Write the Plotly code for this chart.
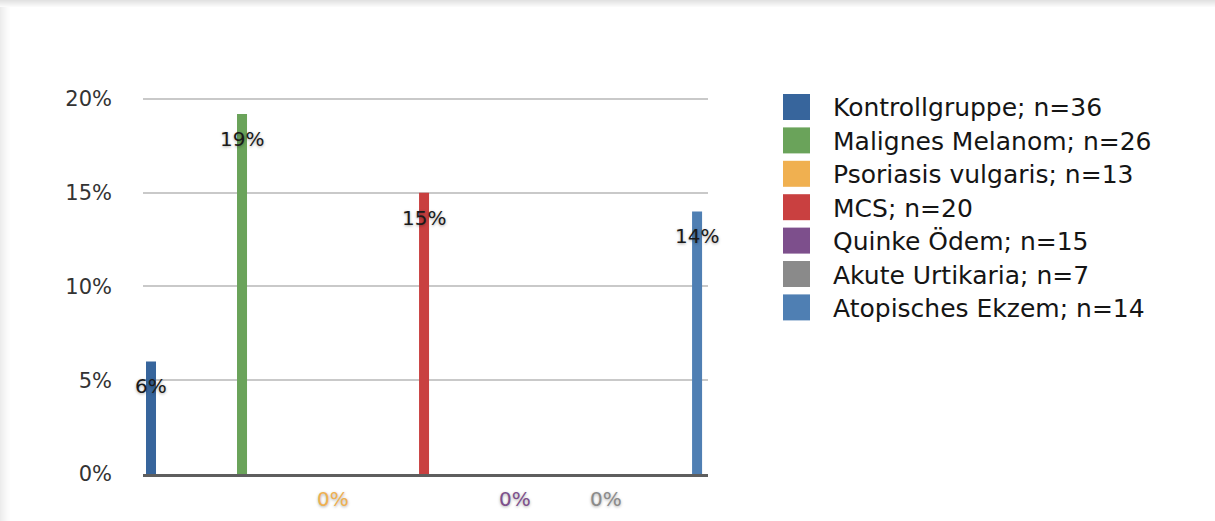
import plotly.graph_objects as go

# ---- data ----
groups = ["Kontrollgruppe; n=36", "Malignes Melanom; n=26", "Psoriasis vulgaris; n=13",
          "MCS; n=20", "Quinke Ödem; n=15", "Akute Urtikaria; n=7", "Atopisches Ekzem; n=14"]
values = [6.0, 19.2, 0.0, 15.0, 0.0, 0.0, 14.0]
colors = ["#37659c", "#6aa35a", "#f0b050", "#c94040", "#7d4f8c", "#8a8a8a", "#4f7fb3"]
y_ticks = [0, 5, 10, 15, 20]
y_tick_labels = ["0%", "5%", "10%", "15%", "20%"]

W, H = 1215, 521
L, R, T, B = 143, 507, 97, 47
PW, PH = W - L - R, H - T - B
FONT = "DejaVu Sans"

def px2x(px):
    return (px - L) / PW

def py2y(py):
    return (H - B - py) / PH

fig = go.Figure()
for i, (g, v, c) in enumerate(zip(groups, values, colors)):
    fig.add_trace(go.Bar(x=[i], y=[v], name=g, marker=dict(color=c, line=dict(width=0)),
                         width=0.11, showlegend=False, hoverinfo="skip"))

annotations = []
for i, (v, c) in enumerate(zip(values, colors)):
    annotations.append(dict(
        x=i, y=v, xref="x", yref="y", text=f"{round(v)}%", showarrow=False,
        yshift=-25, xanchor="center", yanchor="middle",
        font=dict(family=FONT, size=20, color=(c if v == 0 else "#1a1a1a"),
                  shadow="0px 1px 3px rgba(0,0,0,0.35)")))

# manual legend
shapes = []
sq_top0, step, sq = 94, 33.4, 26
for k, (g, c) in enumerate(zip(groups, colors)):
    top = sq_top0 + k * step
    shapes.append(dict(type="rect", xref="paper", yref="paper",
                       x0=px2x(783), x1=px2x(783 + 27), y0=py2y(top + sq), y1=py2y(top),
                       fillcolor=c, line=dict(width=0), layer="above"))
    annotations.append(dict(x=px2x(831), y=py2y(top + sq / 2 + 1), xref="paper", yref="paper",
                            text=g, showarrow=False, xanchor="left", yanchor="middle",
                            font=dict(family=FONT, size=25, color="#151515")))

# frame shadow (top and left edges)
top_cols = ["#e2e2e2", "#e6e6e6", "#eaeaea", "#eeeeee", "#f2f2f2", "#f6f6f6", "#fafafa"]
for i, col in enumerate(top_cols):
    shapes.append(dict(type="rect", xref="paper", yref="paper", x0=px2x(0), x1=px2x(W),
                       y0=py2y(i + 1), y1=py2y(i), fillcolor=col, line=dict(width=0), layer="below"))
left_cols = ["#ececec", "#efefef", "#f1f1f1", "#f3f3f3", "#f5f5f5", "#f7f7f7", "#f9f9f9",
             "#fbfbfb", "#fcfcfc", "#fdfdfd"]
for i, col in enumerate(left_cols):
    shapes.append(dict(type="rect", xref="paper", yref="paper", x0=px2x(i), x1=px2x(i + 1),
                       y0=py2y(H), y1=py2y(7), fillcolor=col, line=dict(width=0), layer="below"))

fig.update_layout(
    width=W, height=H,
    margin=dict(l=L, r=R, t=T, b=B, pad=0),
    paper_bgcolor="white", plot_bgcolor="white",
    barmode="overlay",
    xaxis=dict(range=[-0.088, 6.12], showticklabels=False, showgrid=False, zeroline=False,
               showline=True, linecolor="#5e5e5e", linewidth=3, ticks="", fixedrange=True),
    yaxis=dict(range=[0, 20.1], tickvals=y_ticks, ticktext=y_tick_labels, showgrid=True,
               gridcolor="#c9c9c9", gridwidth=1.5, zeroline=False, showline=False, ticks="",
               ticklabelstandoff=30,
               tickfont=dict(family=FONT, size=21, color="#333333"), fixedrange=True),
    annotations=annotations,
    shapes=shapes,
    showlegend=False,
)

fig.write_html("out.html", config={"displayModeBar": False})
